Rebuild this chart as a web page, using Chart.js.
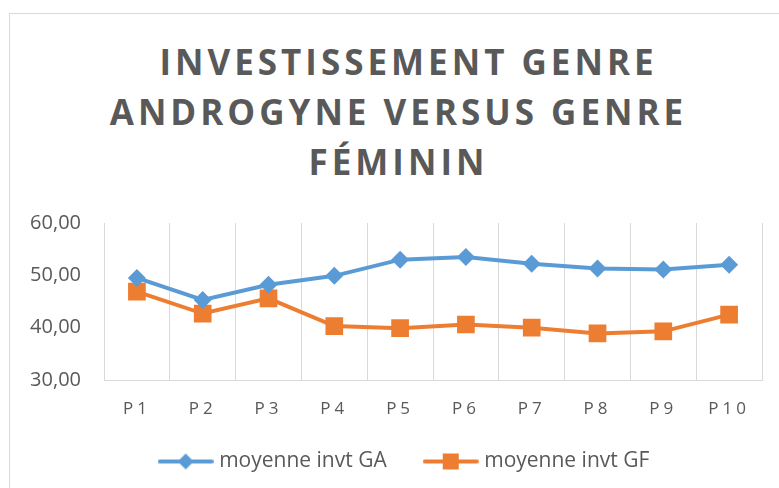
<!DOCTYPE html>
<html>
<head>
<meta charset="utf-8">
<script src="https://cdn.jsdelivr.net/npm/chart.js@4/dist/chart.umd.min.js"></script>
<style>
  html, body { margin: 0; padding: 0; background: #fff; }
  body { width: 779px; height: 488px; position: relative; overflow: hidden; }
  #frame {
    position: absolute; left: 9px; top: 13px; width: 800px; height: 500px;
    border-left: 1px solid #d9d9d9; border-top: 1px solid #d9d9d9;
  }
  #title {
    position: absolute; left: 9px; top: 37px; width: 779px; text-align: center;
    font-family: 'Open Sans', sans-serif; font-weight: 700; font-size: 35px;
    line-height: 50px; letter-spacing: 4px; color: #595959;
  }
  #title .l1 { position: relative; left: 10px; }
  #wrap { position: absolute; left: 0; top: 0; width: 779px; height: 488px; }
</style>
</head>
<body>
<div id="frame"></div>
<div id="title"><span class="l1">INVESTISSEMENT GENRE</span><br>ANDROGYNE VERSUS GENRE<br>FÉMININ</div>
<div id="wrap"><canvas id="chart"></canvas></div>
<script>
// ── Data ──
const periods = ['P1', 'P2', 'P3', 'P4', 'P5', 'P6', 'P7', 'P8', 'P9', 'P10'];
const moyenneGA = [49.5, 45.3, 48.2, 49.9, 53.0, 53.5, 52.2, 51.3, 51.1, 52.0];
const moyenneGF = [46.9, 42.7, 45.6, 40.3, 39.9, 40.6, 40.0, 38.9, 39.3, 42.5];
const yTicks = [30, 40, 50, 60];

const BLUE = '#5b9bd5';
const ORANGE = '#ed7d31';
const TEXT = '#595959';
const GRID = '#d9d9d9';

// legend swatch: line + marker, like Excel
function swatch(color, style) {
  const c = document.createElement('canvas');
  c.width = 56; c.height = 20;
  const ctx = c.getContext('2d');
  ctx.strokeStyle = color; ctx.lineWidth = 4; ctx.lineCap = 'round';
  ctx.beginPath(); ctx.moveTo(2, 10); ctx.lineTo(54, 10); ctx.stroke();
  ctx.fillStyle = color;
  if (style === 'diamond') {
    ctx.beginPath(); ctx.moveTo(28, 2); ctx.lineTo(36, 10); ctx.lineTo(28, 18); ctx.lineTo(20, 10); ctx.closePath(); ctx.fill();
  } else {
    ctx.fillRect(20, 2, 16, 16);
  }
  return c;
}
const swGA = swatch(BLUE, 'diamond');
const swGF = swatch(ORANGE, 'square');

// spaced-out category labels (Excel character spacing), not clipped to the axis box
const spacedTicks = {
  id: 'spacedTicks',
  afterLayout(chart) {
    // legend sits a bit right of centre in the original
    chart.legend.left += 25;
    chart.legend.right += 25;
  },
  beforeDraw(chart) {
    const x = chart.scales.x;
    if (x._spaced) return;
    const orig = x.drawLabels.bind(x);
    x._computeLabelArea = () => undefined;
    x.drawLabels = (area) => {
      chart.ctx.save();
      chart.ctx.letterSpacing = '4px';
      orig(area);
      chart.ctx.restore();
    };
    x._spaced = true;
  },
};

new Chart(document.getElementById('chart'), {
  type: 'line',
  data: {
    labels: periods,
    datasets: [
      {
        label: 'moyenne invt GA',
        data: moyenneGA,
        borderColor: BLUE, backgroundColor: BLUE,
        borderWidth: 4, tension: 0,
        pointStyle: 'rectRot', pointRadius: 9, pointHoverRadius: 9,
        pointBorderWidth: 0,
      },
      {
        label: 'moyenne invt GF',
        data: moyenneGF,
        borderColor: ORANGE, backgroundColor: ORANGE,
        borderWidth: 4, tension: 0,
        pointStyle: 'rect', pointRadius: 12.5, pointHoverRadius: 12.5,
        pointBorderWidth: 0,
      },
    ],
  },
  plugins: [spacedTicks],
  options: {
    responsive: true,
    maintainAspectRatio: false,
    animation: false,
    layout: { padding: { left: 0, right: 17, top: 223, bottom: 6 } },
    plugins: {
      title: { display: false },
      tooltip: { enabled: false },
      legend: {
        position: 'bottom',
        labels: {
          color: TEXT,
          font: { family: "'Open Sans', sans-serif", size: 21 },
          usePointStyle: true,
          pointStyleWidth: 46,
          padding: 41,
          generateLabels: (chart) => chart.data.datasets.map((ds, i) => ({
            text: ds.label,
            fontColor: TEXT,
            pointStyle: i === 0 ? swGA : swGF,
            datasetIndex: i,
            hidden: false,
            lineWidth: 0,
          })),
        },
      },
    },
    scales: {
      x: {
        offset: true,
        grid: { display: true, color: GRID, lineWidth: 1, offset: true, drawTicks: false },
        border: { display: true, color: GRID, width: 1 },
        ticks: {
          color: TEXT, padding: 19,
          font: { family: "'Open Sans', sans-serif", size: 17 },
        },
        afterFit: (scale) => { scale.height = 30; },
      },
      y: {
        min: 30, max: 60,
        afterBuildTicks: (scale) => { scale.ticks = yTicks.map((v) => ({ value: v })); },
        grid: { display: false, drawTicks: false },
        border: { display: true, color: GRID, width: 1 },
        ticks: {
          color: TEXT, padding: 23,
          font: { family: "'Open Sans', sans-serif", size: 20 },
          callback: (v) => v.toFixed(2).replace('.', ','),
        },
        afterFit: (scale) => { scale.width = 104; },
      },
    },
  },
});
</script>
</body>
</html>
